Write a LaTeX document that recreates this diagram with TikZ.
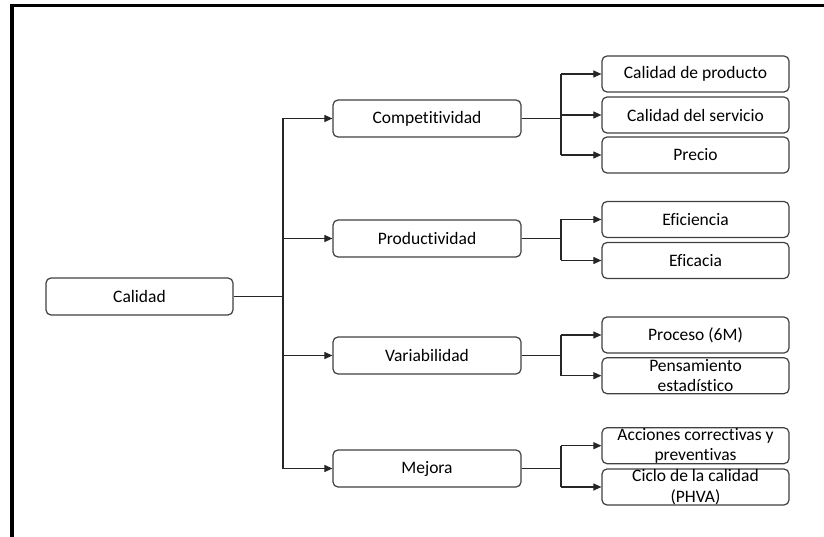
\documentclass[tikz,border=0pt]{standalone}
\usepackage{fontspec}
\setmainfont{Carlito}[Ligatures=NoCommon]
\usetikzlibrary{arrows.meta}
\begin{document}
\begin{tikzpicture}[x=1pt,y=-1pt,
  box/.style={draw=black!75, line width=1.2pt, rounded corners=5pt, fill=white,
    align=center, inner sep=0pt, font=\fontsize{17.5}{20.5}\selectfont},
  lvlone/.style={box, minimum width=187pt, minimum height=37pt},
  lvltwo/.style={box, minimum width=188pt, minimum height=37pt},
  lvlthree/.style={box, minimum width=187pt, minimum height=36pt},
  conn/.style={draw=black!85, line width=1.1pt},
  arr/.style={conn, -{Triangle[length=8pt,width=7pt]}}]

\useasboundingbox (0,0) rectangle (824,537);

% frame lines along the top and left edges
\draw[line width=3.4pt, line join=miter] (12,537) -- (12,5.7) -- (824,5.7);

% root
\node[lvlone] (cal) at (139.5,296.5) {Calidad};

% second level
\node[lvltwo] (comp) at (427,118.5) {Competitividad};
\node[lvltwo] (prod) at (427,238.5) {Productividad};
\node[lvltwo] (vari) at (427,355.5) {Variabilidad};
\node[lvltwo] (mej)  at (427,468.5) {Mejora};

% third level
\node[lvlthree] (c1) at (695.5,74)    {Calidad de producto};
\node[lvlthree] (c2) at (695.5,115)   {Calidad del servicio};
\node[lvlthree] (c3) at (695.5,155)   {Precio};
\node[lvlthree] (p1) at (695.5,219.5) {Eficiencia};
\node[lvlthree] (p2) at (695.5,260.5) {Eficacia};
\node[lvlthree] (v1) at (695.5,335)   {Proceso (6M)};
\node[lvlthree] (v2) at (695.5,375.7) {Pensamiento\\estadístico};
\node[lvlthree] (m1) at (695.5,445.7) {Acciones correctivas y\\preventivas};
\node[lvlthree] (m2) at (695.5,487)   {Ciclo de la calidad\\(PHVA)};

% bus positions
\coordinate (trunk) at (283,0);
\coordinate (br) at (561,0);

% root to second level
\draw[conn] (cal.east) -- (cal.east -| trunk);
\draw[conn] (comp.west -| trunk) -- (mej.west -| trunk);
\foreach \n in {comp,prod,vari,mej}
  \draw[arr] (\n.west -| trunk) -- (\n.west);

% second level to third level
\draw[conn] (comp.east) -- (comp.east -| br);
\draw[conn] (c1.west -| br) -- (c3.west -| br);
\foreach \n in {c1,c2,c3} \draw[arr] (\n.west -| br) -- (\n.west);

\draw[conn] (prod.east) -- (prod.east -| br);
\draw[conn] (p1.west -| br) -- (p2.west -| br);
\foreach \n in {p1,p2} \draw[arr] (\n.west -| br) -- (\n.west);

\draw[conn] (vari.east) -- (vari.east -| br);
\draw[conn] (v1.west -| br) -- (v2.west -| br);
\foreach \n in {v1,v2} \draw[arr] (\n.west -| br) -- (\n.west);

\draw[conn] (mej.east) -- (mej.east -| br);
\draw[conn] (m1.west -| br) -- (m2.west -| br);
\foreach \n in {m1,m2} \draw[arr] (\n.west -| br) -- (\n.west);

\end{tikzpicture}
\end{document}
